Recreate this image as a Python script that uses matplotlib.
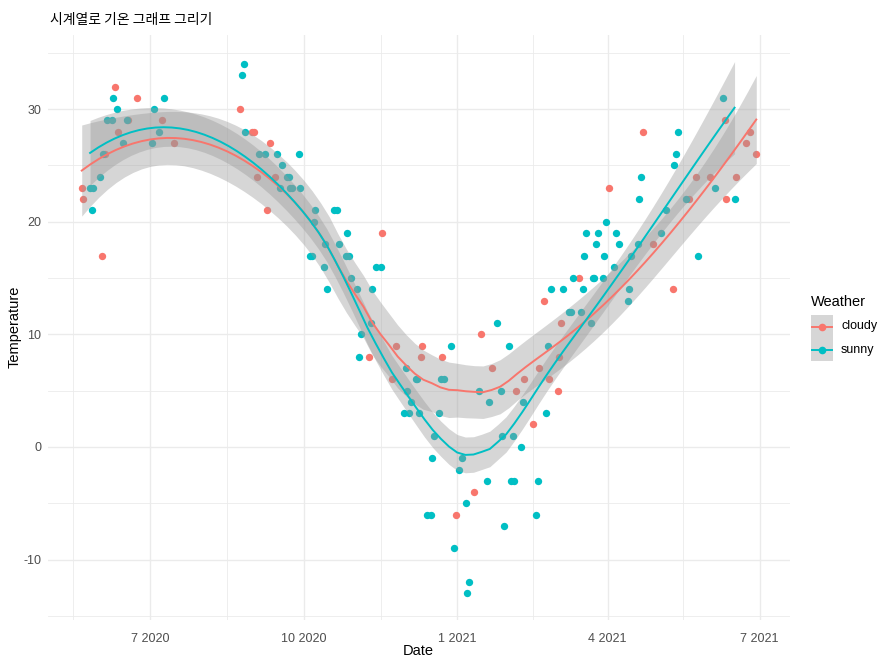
import numpy as np
import pandas as pd
import matplotlib
matplotlib.use("Agg")
import matplotlib.pyplot as plt
import matplotlib.dates as mdates
from matplotlib.patches import Rectangle
from matplotlib.lines import Line2D
from matplotlib.ticker import FuncFormatter, FixedLocator

# ---------------- data ----------------
cloudy_dates = ["2020-05-21", "2020-05-22", "2020-06-02", "2020-06-04", "2020-06-10", "2020-06-12",
                "2020-06-18", "2020-06-23", "2020-07-08", "2020-07-15", "2020-08-24", "2020-08-31",
                "2020-09-01", "2020-09-03", "2020-09-09", "2020-09-11", "2020-09-14", "2020-11-09",
                "2020-11-17", "2020-11-23", "2020-11-25", "2020-12-10", "2020-12-11", "2020-12-23",
                "2020-12-31", "2021-01-11", "2021-01-15", "2021-01-22", "2021-02-05", "2021-02-10",
                "2021-02-15", "2021-02-19", "2021-02-22", "2021-02-25", "2021-03-02", "2021-03-03",
                "2021-03-04", "2021-03-15", "2021-04-02", "2021-04-22", "2021-04-28", "2021-05-10",
                "2021-05-20", "2021-05-24", "2021-06-01", "2021-06-10", "2021-06-11", "2021-06-17",
                "2021-06-23", "2021-06-25", "2021-06-29"]
cloudy_temp = [23, 22, 17, 26, 32, 28,
               29, 31, 29, 27, 30, 28,
               28, 24, 21, 27, 24, 8,
               19, 6, 9, 8, 9, 8,
               -6, -4, 10, 7, 5, 6,
               2, 7, 13, 6, 5, 8,
               11, 15, 23, 28, 18, 14,
               22, 24, 24, 29, 22, 24,
               27, 28, 26]

sunny_dates = ["2020-05-26", "2020-05-27", "2020-05-28", "2020-06-01", "2020-06-03", "2020-06-05",
               "2020-06-08", "2020-06-09", "2020-06-11", "2020-06-15", "2020-06-17", "2020-07-02",
               "2020-07-03", "2020-07-06", "2020-07-09", "2020-08-25", "2020-08-26", "2020-08-27",
               "2020-09-04", "2020-09-08", "2020-09-15", "2020-09-17", "2020-09-18", "2020-09-21",
               "2020-09-22", "2020-09-23", "2020-09-24", "2020-09-28", "2020-09-29", "2020-10-05",
               "2020-10-06", "2020-10-07", "2020-10-08", "2020-10-13", "2020-10-14", "2020-10-15",
               "2020-10-19", "2020-10-21", "2020-10-22", "2020-10-26", "2020-10-27", "2020-10-28",
               "2020-10-29", "2020-11-02", "2020-11-03", "2020-11-04", "2020-11-10", "2020-11-11",
               "2020-11-13", "2020-11-16", "2020-11-30", "2020-12-01", "2020-12-02", "2020-12-03",
               "2020-12-04", "2020-12-07", "2020-12-08", "2020-12-09", "2020-12-14", "2020-12-16",
               "2020-12-17", "2020-12-18", "2020-12-21", "2020-12-22", "2020-12-24", "2020-12-28",
               "2020-12-30", "2021-01-02", "2021-01-04", "2021-01-06", "2021-01-07", "2021-01-08",
               "2021-01-14", "2021-01-19", "2021-01-20", "2021-01-25", "2021-01-27", "2021-01-28",
               "2021-01-29", "2021-02-01", "2021-02-02", "2021-02-03", "2021-02-04", "2021-02-08",
               "2021-02-09", "2021-02-17", "2021-02-18", "2021-02-23", "2021-02-24", "2021-02-26",
               "2021-03-05", "2021-03-09", "2021-03-10", "2021-03-11", "2021-03-16", "2021-03-17",
               "2021-03-18", "2021-03-19", "2021-03-22", "2021-03-23", "2021-03-24", "2021-03-25",
               "2021-03-26", "2021-03-29", "2021-03-30", "2021-03-31", "2021-04-05", "2021-04-06",
               "2021-04-08", "2021-04-13", "2021-04-14", "2021-04-15", "2021-04-19", "2021-04-20",
               "2021-04-21", "2021-05-03", "2021-05-06", "2021-05-11", "2021-05-12", "2021-05-13",
               "2021-05-18", "2021-05-25", "2021-06-04", "2021-06-09", "2021-06-16"]
sunny_temp = [23, 21, 23, 24, 26, 29,
              29, 31, 30, 27, 29, 27,
              30, 28, 31, 33, 34, 28,
              26, 26, 26, 23, 25, 24,
              24, 23, 23, 26, 23, 17,
              17, 20, 21, 16, 18, 14,
              21, 21, 18, 17, 19, 17,
              15, 14, 8, 10, 11, 14,
              16, 16, 3, 7, 5, 3,
              4, 6, 6, 3, -6, -6,
              -1, 1, 3, 6, 6, 9,
              -9, -2, -1, -5, -13, -12,
              5, -3, 4, 11, 5, 1,
              -7, 9, -3, 1, -3, 0,
              4, -6, -3, 3, 9, 14,
              14, 12, 12, 15, 12, 14,
              17, 19, 11, 15, 15, 18,
              19, 15, 17, 20, 16, 19,
              18, 13, 14, 17, 18, 22,
              24, 19, 21, 25, 26, 28,
              22, 17, 23, 31, 22]

weather_levels = ["cloudy", "sunny"]
tick_dates = ["2020-07-01", "2020-10-01", "2021-01-01", "2021-04-01", "2021-07-01"]
minor_dates = ["2020-05-16", "2020-08-16", "2020-11-16", "2021-02-15", "2021-05-16"]
y_major = [-10, 0, 10, 20, 30]
y_minor = [-15, -5, 5, 15, 25, 35]

colors = {"cloudy": "#F8766D", "sunny": "#00BFC4"}

# ---------------- loess (degree 2, span 0.75, like ggplot's default) ----------------
def loess_matrix(x, xs, span=0.75):
    n = len(x)
    q = int(np.floor(n * span))
    L = np.zeros((len(xs), n))
    for i, x0 in enumerate(xs):
        d = np.abs(x - x0)
        h = np.sort(d)[q - 1]
        w = np.clip(1 - (d / h) ** 3, 0, None) ** 3
        X = np.column_stack([np.ones(n), x - x0, (x - x0) ** 2])
        WX = X * w[:, None]
        A = X.T @ WX
        L[i] = np.linalg.solve(A, WX.T)[0]
    return L

def t_quant(df, z=1.959964):
    return (z + (z**3 + z) / (4 * df) + (5 * z**5 + 16 * z**3 + 3 * z) / (96 * df**2)
            + (3 * z**7 + 19 * z**5 + 17 * z**3 - 15 * z) / (384 * df**3))

def smooth(dates, temps):
    t = pd.to_datetime(dates)
    x = ((t - pd.Timestamp("1970-01-01")) / pd.Timedelta(days=1)).values.astype(float)
    y = np.asarray(temps, float)
    n = len(x)
    Lh = loess_matrix(x, x)
    res = y - Lh @ y
    IL = np.eye(n) - Lh
    M = IL.T @ IL
    one_delta = np.trace(M)
    two_delta = np.trace(M @ M)
    s = np.sqrt(np.sum(res**2) / one_delta)
    dfree = one_delta**2 / two_delta
    xs = np.linspace(x.min(), x.max(), 80)
    Lg = loess_matrix(x, xs)
    fit = Lg @ y
    se = s * np.sqrt(np.sum(Lg**2, axis=1))
    tq = t_quant(dfree)
    return xs, fit, fit - tq * se, fit + tq * se

# ---------------- figure ----------------
plt.rcParams["font.family"] = ["Liberation Sans", "Noto Sans CJK KR", "DejaVu Sans"]
plt.rcParams["axes.unicode_minus"] = False
W, H = 891, 666
fig = plt.figure(figsize=(W / 100, H / 100), dpi=100)
ax = fig.add_axes([48 / W, 1 - 620 / H, (790 - 48) / W, (620 - 35) / H])

data = {"cloudy": (cloudy_dates, cloudy_temp), "sunny": (sunny_dates, sunny_temp)}

for lev in weather_levels:
    d, tmp = data[lev]
    ax.scatter(pd.to_datetime(d), tmp, s=28, color=colors[lev], linewidths=0, zorder=3)

for lev in weather_levels:
    d, tmp = data[lev]
    xs, fit, lo, hi = smooth(d, tmp)
    xd = pd.to_datetime(xs, unit="D")
    ax.fill_between(xd, lo, hi, color="#999999", alpha=0.4, linewidth=0, zorder=4)
    ax.plot(xd, fit, color=colors[lev], lw=1.4, zorder=5)

ax.margins(x=0.05, y=0.05)

# grid / spines
for sp in ax.spines.values():
    sp.set_visible(False)
ax.set_axisbelow(True)
ax.xaxis.set_major_locator(FixedLocator(mdates.date2num(pd.to_datetime(tick_dates))))
ax.xaxis.set_minor_locator(FixedLocator(mdates.date2num(pd.to_datetime(minor_dates))))
ax.xaxis.set_major_formatter(FuncFormatter(lambda v, p: f"{mdates.num2date(v).month} {mdates.num2date(v).year}"))
ax.yaxis.set_major_locator(FixedLocator(y_major))
ax.yaxis.set_minor_locator(FixedLocator(y_minor))
ax.grid(which="major", color="#EBEBEB", lw=1.0)
ax.grid(which="minor", color="#EBEBEB", lw=0.6)
ax.tick_params(which="both", length=0)
ax.tick_params(axis="both", labelsize=9, labelcolor="#4D4D4D")
ax.tick_params(axis="x", pad=9)
ax.tick_params(axis="y", pad=5)

ax.set_xlabel("Date", fontsize=10.5)
ax.xaxis.set_label_coords((418 - 48) / (790 - 48), -(651 - 620) / (620 - 35))
ax.xaxis.label.set_va("center")
ax.set_ylabel("Temperature", fontsize=10.5)
ax.yaxis.set_label_coords((15 - 48) / (790 - 48), (620 - 327) / (620 - 35))
ax.yaxis.label.set_va("center")
fig.text(50 / W, 1 - 20 / H, "시계열로 기온 그래프 그리기", fontsize=10, va="center", ha="left",
         family=["Noto Sans CJK KR", "DejaVu Sans"])

# ---------------- legend (ggplot style keys) ----------------
fig.text(811 / W, 1 - 302 / H, "Weather", fontsize=10.5, ha="left", va="center")
key_top = [315, 338]
for lev, top in zip(weather_levels, key_top):
    fig.add_artist(Rectangle((811 / W, 1 - (top + 23) / H), 22 / W, 23 / H,
                             transform=fig.transFigure, facecolor="#D6D6D6", edgecolor="none"))
    yc = 1 - (top + 11.5) / H
    fig.add_artist(Line2D([812 / W, 832 / W], [yc, yc], transform=fig.transFigure,
                          color=colors[lev], lw=1.4))
    fig.add_artist(Line2D([822 / W], [yc], transform=fig.transFigure, color=colors[lev],
                          marker="o", markersize=5.5, markeredgewidth=0, linestyle="none"))
    fig.text(841 / W, yc, lev, fontsize=9, ha="left", va="center")

fig.savefig("out.png", dpi=100)
